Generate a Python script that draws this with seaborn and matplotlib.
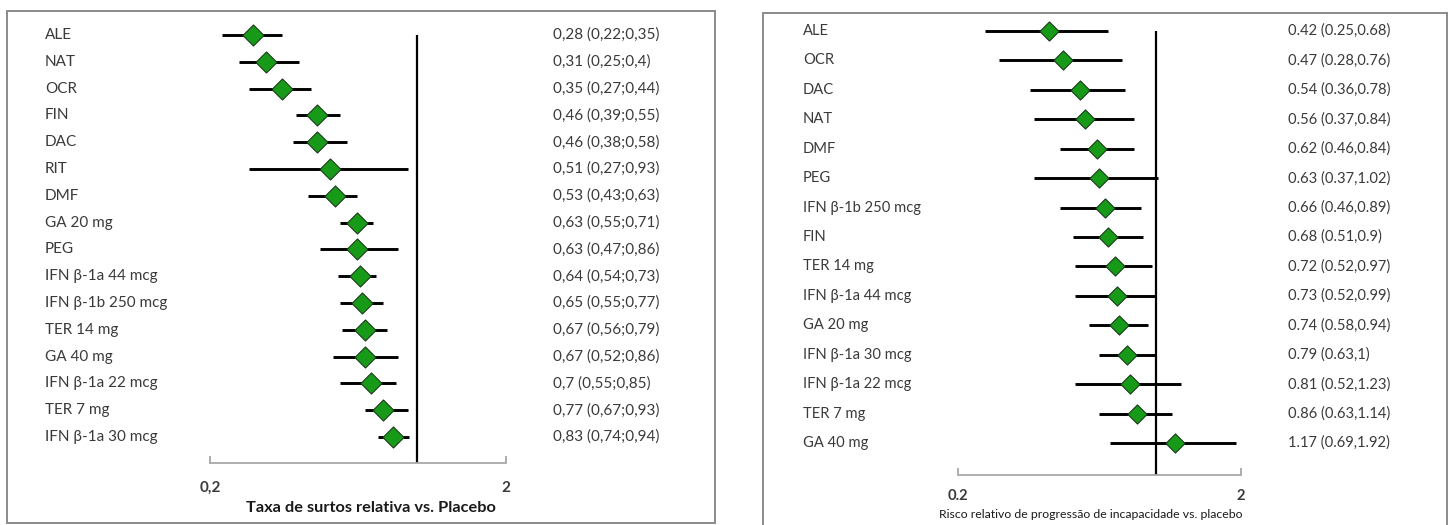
import matplotlib
matplotlib.use("Agg")
import matplotlib.pyplot as plt
import matplotlib.transforms as mtrans
from matplotlib.patches import Rectangle
from matplotlib.ticker import NullLocator, FixedLocator, FixedFormatter
import seaborn as sns
import pandas as pd

# ---------------- data ----------------
left_labels = ["ALE", "NAT", "OCR", "FIN", "DAC", "RIT", "DMF", "GA 20 mg", "PEG",
               "IFN β-1a 44 mcg", "IFN β-1b 250 mcg", "TER 14 mg", "GA 40 mg",
               "IFN β-1a 22 mcg", "TER 7 mg", "IFN β-1a 30 mcg"]
left_est = [0.28, 0.31, 0.35, 0.46, 0.46, 0.51, 0.53, 0.63, 0.63, 0.64, 0.65, 0.67, 0.67, 0.70, 0.77, 0.83]
left_lo = [0.22, 0.25, 0.27, 0.39, 0.38, 0.27, 0.43, 0.55, 0.47, 0.54, 0.55, 0.56, 0.52, 0.55, 0.67, 0.74]
left_hi = [0.35, 0.40, 0.44, 0.55, 0.58, 0.93, 0.63, 0.71, 0.86, 0.73, 0.77, 0.79, 0.86, 0.85, 0.93, 0.94]
left_ticks = [0.2, 2]
left_ticklabels = ["0,2", "2"]
left_xlabel = "Taxa de surtos relativa vs. Placebo"

right_labels = ["ALE", "OCR", "DAC", "NAT", "DMF", "PEG", "IFN β-1b 250 mcg", "FIN",
                "TER 14 mg", "IFN β-1a 44 mcg", "GA 20 mg", "IFN β-1a 30 mcg",
                "IFN β-1a 22 mcg", "TER 7 mg", "GA 40 mg"]
right_est = [0.42, 0.47, 0.54, 0.56, 0.62, 0.63, 0.66, 0.68, 0.72, 0.73, 0.74, 0.79, 0.81, 0.86, 1.17]
right_lo = [0.25, 0.28, 0.36, 0.37, 0.46, 0.37, 0.46, 0.51, 0.52, 0.52, 0.58, 0.63, 0.52, 0.63, 0.69]
right_hi = [0.68, 0.76, 0.78, 0.84, 0.84, 1.02, 0.89, 0.90, 0.97, 0.99, 0.94, 1.00, 1.23, 1.14, 1.92]
right_ticks = [0.2, 2]
right_ticklabels = ["0.2", "2"]
right_xlabel = "Risco relativo de progressão de incapacidade vs. placebo"

# ---------------- figure ----------------
W, H = 1453, 525
sns.set_style("white")
plt.rcParams['font.family'] = ['Lato', 'DejaVu Sans']

fig = plt.figure(figsize=(W / 100, H / 100), dpi=100)

TXT = "#3a3a3a"
GREEN = "#179a17"
EDGE = "#1c3a1c"
GRAY = "#a8a8a8"


def fx(px):
    return px / W


def fy(py):
    return 1 - py / H


def fmt(v, dec):
    s = f"{v:g}"
    return s.replace(".", dec)


def panel(labels, est, lo, hi, ticks, ticklabels, x0, x1, ytop, ybot, ymax,
          label_x, val_x, fs, dec, sep, msize, pad):
    ax = fig.add_axes([fx(x0), fy(ybot), fx(x1 - x0), (ybot - ytop) / H])
    df = pd.DataFrame({"label": labels, "est": est, "lo": lo, "hi": hi,
                       "row": list(range(len(labels)))})
    ax.set_xscale("log")
    ax.set_xlim(0.2, 2)
    ax.set_ylim(ymax, 0)
    ax.hlines(df["row"], df["lo"], df["hi"], color="black", lw=2.1, clip_on=False, zorder=3)
    ax.vlines(1, 0, ymax, color="black", lw=1.6, zorder=2)
    sns.scatterplot(data=df, x="est", y="row", marker="D", s=msize, color=GREEN,
                    edgecolor=EDGE, linewidth=0.8, ax=ax, clip_on=False, zorder=5,
                    legend=False)
    ax.set_xlabel("")
    ax.set_ylabel("")
    ax.set_yticks([])
    ax.xaxis.set_minor_locator(NullLocator())
    ax.xaxis.set_major_locator(FixedLocator(ticks))
    ax.xaxis.set_major_formatter(FixedFormatter(ticklabels))
    ax.tick_params(axis="x", direction="in", length=5, width=1.3, color=GRAY,
                   pad=pad, labelsize=fs, labelcolor=TXT, bottom=True)
    for t in ax.get_xticklabels():
        t.set_fontweight("bold")
    for s in ["top", "left", "right"]:
        ax.spines[s].set_visible(False)
    ax.spines["bottom"].set_color(GRAY)
    ax.spines["bottom"].set_linewidth(1.3)
    ax.patch.set_alpha(0)

    trans = mtrans.blended_transform_factory(fig.transFigure, ax.transData)
    for r in df.itertuples():
        ax.text(fx(label_x), r.row, r.label, transform=trans, ha="left", va="center",
                fontsize=fs, color=TXT)
        val = f"{fmt(r.est, dec)} ({fmt(r.lo, dec)}{sep}{fmt(r.hi, dec)})"
        ax.text(fx(val_x), r.row, val, transform=trans, ha="left", va="center",
                fontsize=fs, color=TXT)
    return ax


# panel borders
fig.patches.append(Rectangle((fx(7), fy(523)), fx(715 - 7), (523 - 11) / H,
                             transform=fig.transFigure, fill=False,
                             edgecolor="#8a8a8a", lw=1.4))
fig.patches.append(Rectangle((fx(763), fy(535)), fx(1447 - 763), (535 - 13) / H,
                             transform=fig.transFigure, fill=False,
                             edgecolor="#8a8a8a", lw=1.4))

panel(left_labels, left_est, left_lo, left_hi, left_ticks, left_ticklabels,
      210, 506, 35, 463, 15.97, 45, 553, 11, ",", ";", 115, 13)
panel(right_labels, right_est, right_lo, right_hi, right_ticks, right_ticklabels,
      958, 1241, 31, 475, 15.09, 803, 1288, 10.6, ".", ",", 95, 10)

fig.text(fx(371), fy(508), left_xlabel, ha="center", va="center", fontsize=11.8,
         fontweight="bold", color="#1a1a1a")
fig.text(fx(1091), fy(515), right_xlabel, ha="center", va="center", fontsize=8.8,
         color="#1a1a1a")

fig.savefig("out.png", dpi=100)
